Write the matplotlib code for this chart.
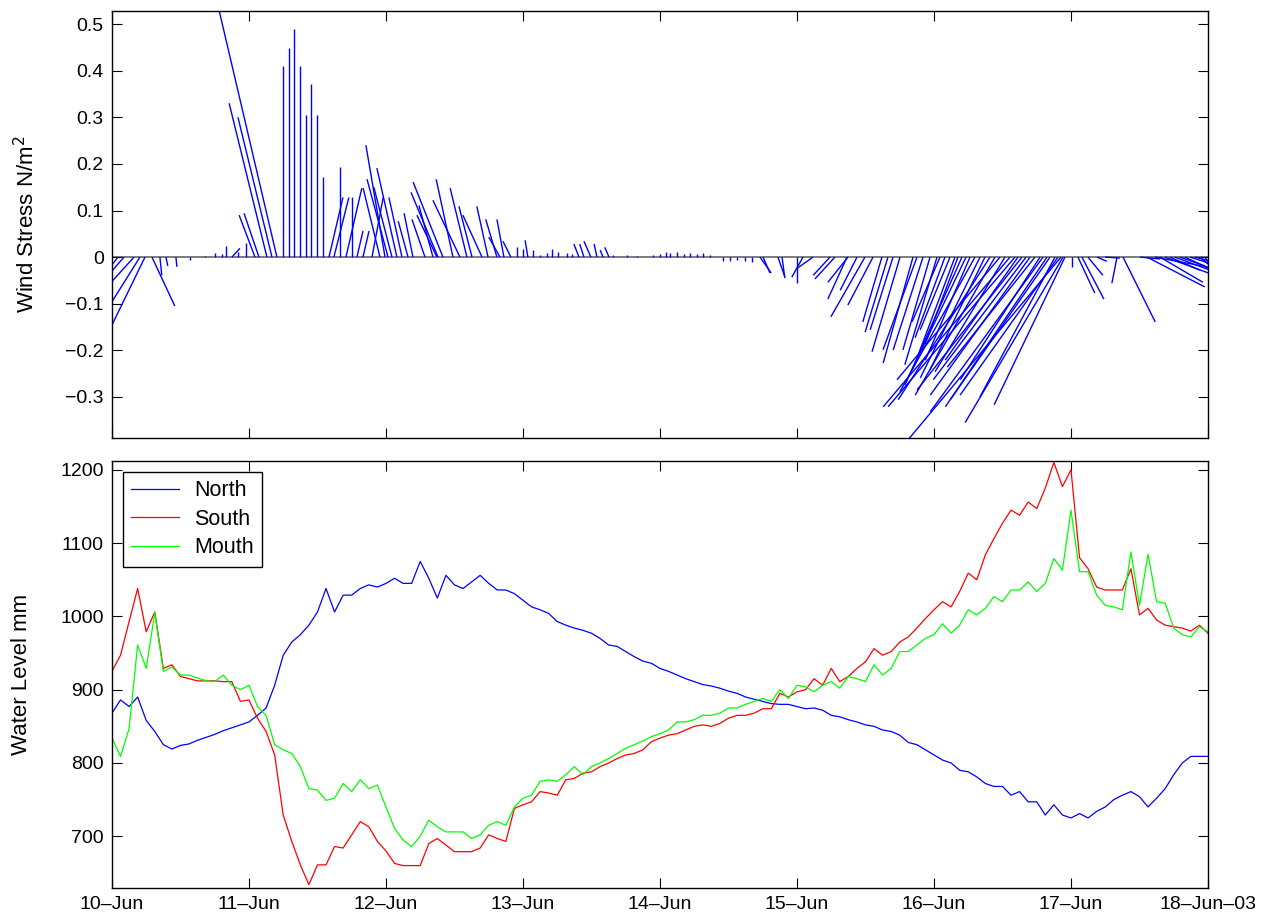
import numpy as np
import matplotlib
matplotlib.use('Agg')
import matplotlib.pyplot as plt
from matplotlib.collections import LineCollection

# --- wind stress sticks: time (days after 10-Jun-2003 00:00), u, v in N/m^2
stick_t = [0.044, 0.088, 0.161, 0.204, 0.241, 0.292, 0.350, 0.394, 0.467, 0.569,
           0.679, 0.752, 0.803, 0.832, 0.876, 0.920, 0.978, 1.044, 1.073, 1.131,
           1.168, 1.204, 1.248, 1.292, 1.328, 1.372, 1.416, 1.453, 1.496, 1.540,
           1.584, 1.620, 1.664, 1.708, 1.752, 1.788, 1.832, 1.898, 1.956, 1.993,
           2.015, 2.044, 2.080, 2.117, 2.161, 2.197, 2.285, 2.343, 2.372, 2.380,
           2.416, 2.489, 2.540, 2.591, 2.628, 2.701, 2.745, 2.810, 2.832, 2.861,
           2.912, 2.956, 3.000, 3.036, 3.073, 3.124, 3.175, 3.212, 3.255, 3.321,
           3.358, 3.409, 3.445, 3.496, 3.540, 3.584, 3.628, 3.657, 3.759, 3.832,
           3.949, 4.000, 4.044, 4.073, 4.124, 4.175, 4.219, 4.270, 4.314, 4.365,
           4.460, 4.511, 4.562, 4.620, 4.672, 4.730, 4.752, 4.861, 4.891, 5.000,
           5.044, 5.117, 5.241, 5.277, 5.365, 5.372, 5.438, 5.496, 5.555, 5.620,
           5.664, 5.701, 5.752, 5.847, 5.876, 5.920, 5.971, 6.022, 6.044, 6.080,
           6.117, 6.153, 6.175, 6.204, 6.234, 6.263, 6.299, 6.336, 6.372, 6.409,
           6.445, 6.482, 6.518, 6.555, 6.591, 6.613, 6.642, 6.672, 6.701, 6.737,
           6.774, 6.796, 6.825, 6.847, 6.883, 6.905, 6.927, 6.942, 6.956, 7.007,
           7.051, 7.080, 7.124, 7.190, 7.248, 7.336, 7.380, 7.504, 7.555, 7.613,
           7.650, 7.686, 7.723, 7.759, 7.796, 7.832, 7.869, 7.905, 7.942, 7.978]
stick_u = [-0.015, -0.028, -0.049, -0.062, -0.073, 0.049, 0.004, 0.004, 0.002, 0.0,
           0.0, 0.0, 0.0, 0.0, 0.017, 0.0, 0.0, -0.034, -0.032, -0.081,
           -0.073, -0.131, 0.0, 0.0, 0.0, 0.0, 0.0, 0.0, 0.0, 0.0,
           0.030, 0.032, 0.0, 0.034, 0.0, 0.013, 0.013, 0.024, -0.036, -0.041,
           -0.045, -0.039, -0.043, -0.028, -0.021, -0.019, -0.028, -0.030, -0.043, -0.058,
           -0.064, -0.036, -0.058, -0.036, -0.028, -0.041, -0.024, -0.024, -0.024, -0.015,
           -0.017, 0.0, 0.0, -0.006, 0.0, 0.0, 0.0, 0.0, 0.0, 0.0,
           0.0, -0.011, -0.009, -0.015, -0.006, -0.006, -0.009, 0.0, 0.0, 0.0,
           0.0, 0.0, 0.0, 0.0, 0.0, 0.0, 0.0, 0.0, 0.0, 0.0,
           0.0, 0.0, 0.0, 0.0, 0.0, 0.024, 0.015, 0.015, 0.006, 0.0,
           -0.024, -0.034, -0.036, -0.043, -0.041, -0.043, -0.036, -0.073, -0.054, -0.041,
           -0.049, -0.049, -0.060, -0.064, -0.073, -0.064, -0.058, -0.069, -0.060, -0.064,
           -0.064, -0.079, -0.071, -0.122, -0.116, -0.096, -0.161, -0.128, -0.118, -0.197,
           -0.171, -0.221, -0.150, -0.272, -0.272, -0.156, -0.225, -0.199, -0.214, -0.188,
           -0.171, -0.242, -0.218, -0.214, -0.161, -0.210, -0.355, -0.210, -0.152, 0.0,
           0.036, 0.047, 0.032, 0.021, 0.032, -0.011, 0.069, 0.043, 0.124, 0.128,
           0.092, 0.107, 0.064, 0.086, 0.054, 0.064, 0.054, 0.043, 0.032, 0.015]
stick_v = [-0.019, -0.032, -0.054, -0.099, -0.150, -0.105, -0.039, -0.019, -0.021, -0.006,
           0.002, 0.009, 0.006, 0.024, 0.019, 0.011, 0.030, 0.090, 0.094, 0.330,
           0.300, 0.559, 0.409, 0.448, 0.490, 0.409, 0.304, 0.372, 0.304, 0.171,
           0.128, 0.128, 0.193, 0.148, 0.130, 0.056, 0.056, 0.128, 0.148, 0.240,
           0.167, 0.150, 0.191, 0.128, 0.077, 0.094, 0.081, 0.111, 0.090, 0.139,
           0.161, 0.167, 0.122, 0.148, 0.109, 0.090, 0.109, 0.081, 0.043, 0.081,
           0.034, 0.021, 0.017, 0.036, 0.015, 0.004, 0.009, 0.017, 0.011, 0.008,
           0.006, 0.028, 0.028, 0.034, 0.028, 0.015, 0.021, 0.004, 0.004, 0.003,
           0.004, 0.006, 0.011, 0.008, 0.011, 0.006, 0.008, 0.006, 0.008, 0.004,
           -0.009, -0.008, -0.006, -0.008, -0.011, -0.034, -0.034, -0.043, -0.045, -0.056,
           -0.043, -0.024, -0.039, -0.047, -0.090, -0.054, -0.071, -0.128, -0.103, -0.139,
           -0.161, -0.156, -0.203, -0.227, -0.199, -0.199, -0.199, -0.231, -0.139, -0.173,
           -0.156, -0.210, -0.188, -0.274, -0.242, -0.221, -0.289, -0.259, -0.242, -0.306,
           -0.296, -0.263, -0.246, -0.321, -0.321, -0.221, -0.285, -0.263, -0.296, -0.236,
           -0.263, -0.332, -0.321, -0.306, -0.300, -0.296, -0.424, -0.355, -0.317, -0.021,
           -0.077, -0.090, -0.039, -0.009, -0.002, -0.056, -0.139, -0.004, -0.064, -0.024,
           -0.054, -0.039, -0.028, -0.032, -0.019, -0.030, -0.017, -0.011, -0.028, -0.024]

# --- water level (mm), sampled every 1.5 h from 10-Jun 00:00
wl_t = np.arange(129) / 16.0
north = [868, 886, 877, 890, 858, 843, 825, 819, 824, 826, 831, 835, 839, 844, 848, 852,
         856, 865, 875, 906, 947, 965, 975, 988, 1006, 1038, 1006, 1029, 1029, 1038, 1043, 1040,
         1045, 1052, 1045, 1045, 1075, 1052, 1025, 1056, 1043, 1038, 1047, 1056, 1045, 1036, 1036, 1031,
         1022, 1013, 1009, 1004, 993, 988, 984, 981, 977, 970, 961, 959, 952, 945, 939, 936,
         929, 925, 920, 915, 911, 907, 905, 902, 898, 895, 890, 887, 884, 881, 880, 880,
         877, 874, 875, 872, 865, 863, 859, 856, 852, 850, 845, 843, 838, 828, 825, 818,
         811, 804, 800, 790, 788, 781, 772, 768, 768, 756, 761, 747, 747, 729, 743, 729,
         725, 731, 725, 734, 740, 750, 756, 761, 754, 740, 752, 765, 784, 800, 809, 809,
         809]
south = [925, 947, 993, 1038, 979, 1006, 929, 934, 918, 915, 912, 912, 912, 911, 911, 884,
         886, 861, 843, 811, 729, 693, 661, 634, 661, 661, 686, 684, 702, 720, 713, 693,
         680, 663, 660, 660, 660, 690, 697, 688, 679, 679, 679, 684, 702, 697, 693, 738,
         743, 747, 761, 759, 756, 777, 779, 786, 788, 795, 800, 806, 811, 813, 818, 829,
         834, 838, 840, 845, 850, 852, 850, 854, 861, 865, 865, 868, 874, 874, 895, 890,
         897, 900, 915, 906, 929, 911, 918, 929, 938, 956, 947, 952, 965, 972, 984, 997,
         1009, 1020, 1013, 1034, 1059, 1050, 1084, 1106, 1127, 1145, 1138, 1156, 1147, 1175, 1210, 1177,
         1200, 1080, 1065, 1040, 1036, 1036, 1036, 1065, 1002, 1011, 995, 988, 986, 984, 980, 988,
         977]
mouth = [834, 809, 847, 961, 929, 1005, 925, 931, 920, 920, 916, 912, 911, 920, 906, 900,
         906, 877, 865, 825, 818, 813, 795, 765, 763, 749, 752, 772, 761, 777, 765, 770,
         740, 711, 695, 686, 700, 722, 713, 706, 706, 706, 697, 702, 715, 720, 715, 740,
         752, 756, 775, 777, 775, 784, 795, 784, 795, 800, 806, 813, 820, 825, 830, 836,
         840, 845, 856, 856, 859, 865, 865, 868, 875, 875, 880, 884, 888, 884, 900, 888,
         906, 904, 897, 906, 911, 902, 918, 915, 911, 934, 920, 929, 952, 952, 961, 970,
         975, 990, 977, 988, 1009, 1002, 1011, 1027, 1020, 1036, 1036, 1047, 1034, 1045, 1079, 1063,
         1145, 1061, 1061, 1029, 1015, 1013, 1009, 1088, 1015, 1085, 1020, 1018, 984, 975, 972, 986,
         979]

day_ticks = list(range(9))
day_labels = ['10\u2013Jun', '11\u2013Jun', '12\u2013Jun', '13\u2013Jun', '14\u2013Jun',
              '15\u2013Jun', '16\u2013Jun', '17\u2013Jun', '18\u2013Jun\u201303']
ws_ticks = [-0.3, -0.2, -0.1, 0, 0.1, 0.2, 0.3, 0.4, 0.5]
ws_labels = ['\u22120.3', '\u22120.2', '\u22120.1', '0', '0.1', '0.2', '0.3', '0.4', '0.5']
wl_ticks = [700, 800, 900, 1000, 1100, 1200]


def style(ax):
    ax.tick_params(direction='in', top=True, right=True, length=7, width=0.8,
                   labelsize=14, pad=6)
    for s in ax.spines.values():
        s.set_linewidth(1.0)


def main():
    plt.rcParams['font.family'] = ['Liberation Sans', 'DejaVu Sans']
    fig = plt.figure(figsize=(12.84, 9.24), dpi=100)
    ax1 = fig.add_axes([0.0872, 0.526, 0.8536, 0.4621])
    ax2 = fig.add_axes([0.0872, 0.039, 0.8536, 0.4621])

    # stick plot: keep the visual angle of each stick
    ax1.set_xlim(0, 8)
    ax1.set_ylim(-0.388, 0.528)
    bb = ax1.get_window_extent()
    scale = (bb.height / (0.528 + 0.388)) / (bb.width / 8.0)
    t = np.array(stick_t)
    u = np.array(stick_u)
    v = np.array(stick_v)
    segs = [[(ti, 0.0), (ti + ui * scale, vi)] for ti, ui, vi in zip(t, u, v)]
    ax1.add_collection(LineCollection(segs, colors='b', linewidths=1.0))
    ax1.axhline(0, color='0.4', lw=1.2, zorder=1)
    ax1.set_xticks(day_ticks)
    ax1.set_xticklabels([])
    ax1.set_yticks(ws_ticks)
    ax1.set_yticklabels(ws_labels)
    ax1.set_ylabel('Wind Stress N/m$^2$', fontsize=16)
    ax1.yaxis.set_label_coords(-0.066, 0.5)
    style(ax1)

    ax2.plot(wl_t, north, color='b', lw=0.9, label='North')
    ax2.plot(wl_t, south, color='r', lw=0.9, label='South')
    ax2.plot(wl_t, mouth, color=(0, 1, 0), lw=0.9, label='Mouth')
    ax2.set_xlim(0, 8)
    ax2.set_ylim(629.5, 1212)
    ax2.set_xticks(day_ticks)
    ax2.set_xticklabels(day_labels)
    ax2.set_yticks(wl_ticks)
    ax2.set_ylabel('Water Level mm', fontsize=16)
    ax2.yaxis.set_label_coords(-0.073, 0.5)
    style(ax2)
    leg = ax2.legend(loc='upper left', fontsize=15.5, fancybox=False, edgecolor='k',
                     framealpha=1, handlelength=2.2, handletextpad=0.7,
                     labelspacing=0.35, borderpad=0.4, borderaxespad=0.5)
    leg.get_frame().set_linewidth(1.0)

    fig.savefig('out.png', dpi=100)


if __name__ == '__main__':
    main()
